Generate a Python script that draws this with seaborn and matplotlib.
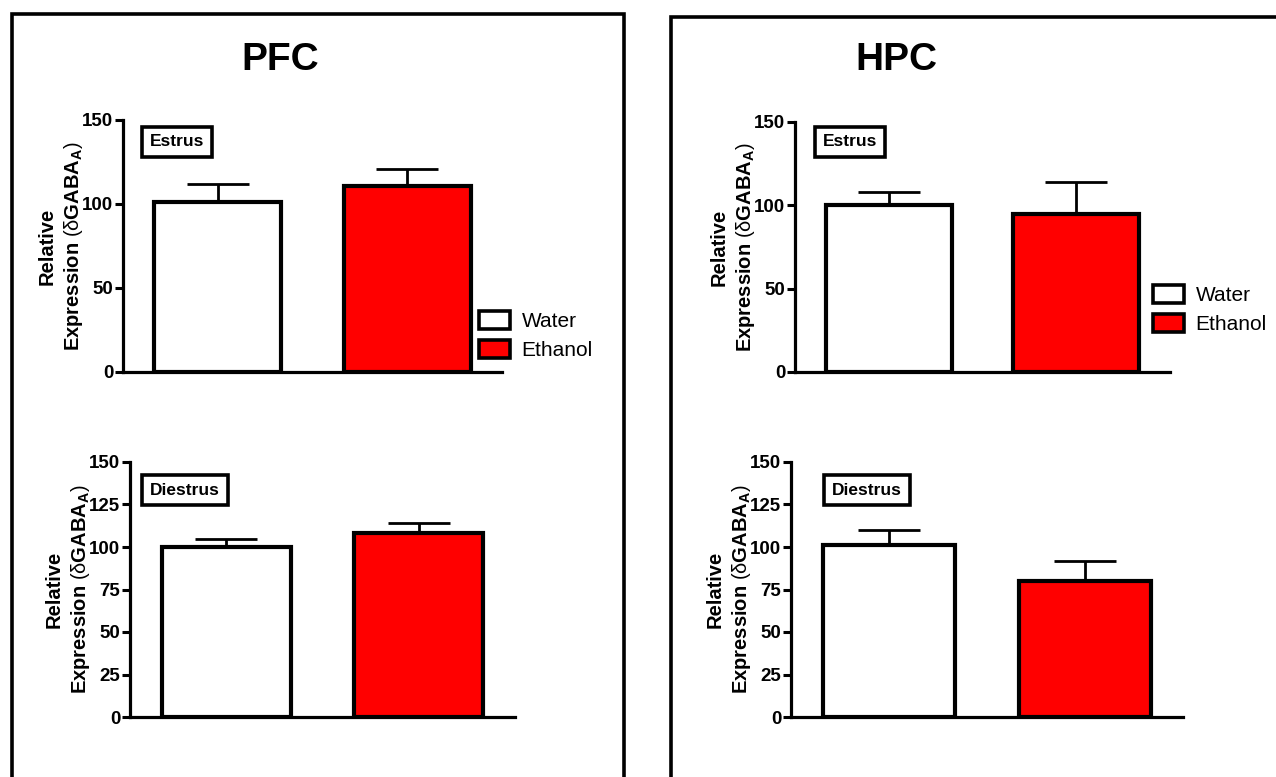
import matplotlib
matplotlib.use('Agg')
import matplotlib.pyplot as plt
import seaborn as sns
from matplotlib.patches import Rectangle, Patch

# values (means and upper SEM)
groups = ['Water', 'Ethanol']
pfc_estrus = [101, 111]
pfc_estrus_err = [11, 10]
pfc_diestrus = [100, 108]
pfc_diestrus_err = [5, 6]
hpc_estrus = [100, 95]
hpc_estrus_err = [8, 19]
hpc_diestrus = [101, 80]
hpc_diestrus_err = [9, 12]
colors = ['white', '#ff0000']

sns.set_style('ticks')
plt.rcParams['font.family'] = ['Liberation Sans', 'DejaVu Sans']
plt.rcParams['mathtext.fontset'] = 'custom'
plt.rcParams['mathtext.rm'] = 'Liberation Sans'
plt.rcParams['mathtext.it'] = 'Liberation Sans:bold'
plt.rcParams['mathtext.bf'] = 'Liberation Sans:bold'
for k in ['text.color', 'axes.labelcolor', 'axes.edgecolor', 'ytick.color', 'xtick.color']:
    plt.rcParams[k] = 'black'

W, H = 1276, 777
fig = plt.figure(figsize=(12.76, 7.77), dpi=100)


def px_axes(l, t, r, b):
    return fig.add_axes([l / W, 1 - b / H, (r - l) / W, (b - t) / H])


def draw_panel(ax, vals, errs, yticks, tag, tag_xy):
    sns.barplot(x=groups, y=vals, hue=groups, palette=colors, saturation=1, edgecolor='black',
                linewidth=3, width=0.67, errorbar=None, legend=False, ax=ax, zorder=2)
    ax.errorbar([0, 1], vals, yerr=[[0, 0], errs], fmt='none', ecolor='black',
                elinewidth=2, capsize=22, capthick=2, zorder=1)
    ax.set_ylim(0, 150)
    ax.set_xlim(-0.5, 1.5)
    ax.set_yticks(yticks)
    ax.set_xticks([])
    ax.set_xlabel('')
    sns.despine(ax=ax)
    for s in ['left', 'bottom']:
        ax.spines[s].set_linewidth(2.3)
    ax.tick_params(axis='y', length=6, width=2.2, pad=1)
    for lab in ax.get_yticklabels():
        lab.set_fontweight('bold')
        lab.set_fontsize(13.5)
    ax.set_ylabel('Relative\nExpression $\\mathrm{(\\delta}$GABA$_\\mathbf{A}\\mathrm{)}$',
                  fontsize=14.5, fontweight='bold', labelpad=-2, linespacing=1.3)
    ax.text(tag_xy[0], tag_xy[1], tag, transform=ax.transAxes, ha='center', va='center',
            fontsize=12.5, fontweight='bold',
            bbox=dict(boxstyle='square,pad=0.45', fc='white', ec='black', lw=2.6))


ax1 = px_axes(123, 120, 502, 372)
draw_panel(ax1, pfc_estrus, pfc_estrus_err, [0, 50, 100, 150], 'Estrus', (0.142, 0.913))
ax2 = px_axes(130, 462, 515, 717)
draw_panel(ax2, pfc_diestrus, pfc_diestrus_err, [0, 25, 50, 75, 100, 125, 150], 'Diestrus', (0.143, 0.89))
ax3 = px_axes(795, 122, 1170, 372)
draw_panel(ax3, hpc_estrus, hpc_estrus_err, [0, 50, 100, 150], 'Estrus', (0.147, 0.92))
ax4 = px_axes(791, 462, 1183, 717)
draw_panel(ax4, hpc_diestrus, hpc_diestrus_err, [0, 25, 50, 75, 100, 125, 150], 'Diestrus', (0.194, 0.89))

handles = [Patch(facecolor=c, edgecolor='black', linewidth=2.6) for c in colors]
for anchor in [(479 / W, 1 - 311 / H), (1153 / W, 1 - 285 / H)]:
    fig.legend(handles, groups, loc='upper left', bbox_to_anchor=anchor, frameon=False,
               handlelength=1.5, handleheight=0.95, handletextpad=0.55, labelspacing=0.42,
               borderaxespad=0, borderpad=0, prop={'size': 15})

# panel frames
fig.patches.append(Rectangle((12 / W, -0.05), (624 - 12) / W, 1.05 - 14 / H,
                             transform=fig.transFigure, fill=False, ec='black', lw=2.6))
fig.patches.append(Rectangle((671 / W, -0.05), 0.5, 1.05 - 17 / H,
                             transform=fig.transFigure, fill=False, ec='black', lw=2.6))

fig.text(280 / W, 1 - 60 / H, 'PFC', ha='center', va='center', fontsize=28, fontweight='bold')
fig.text(896 / W, 1 - 60 / H, 'HPC', ha='center', va='center', fontsize=28, fontweight='bold')

fig.savefig('out.png', dpi=100)
